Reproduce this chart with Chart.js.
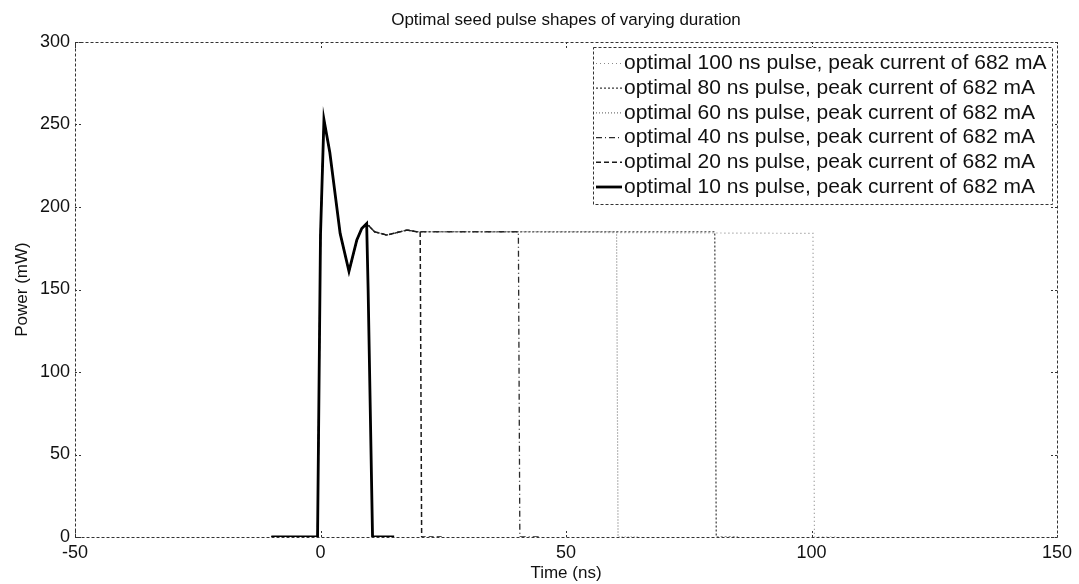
<!DOCTYPE html>
<html>
<head>
<meta charset="utf-8">
<script src="https://cdn.jsdelivr.net/npm/chart.js@4"></script>
<style>
  html, body { margin: 0; padding: 0; background: #fff; }
  #wrap { width: 1079px; height: 584px; }
</style>
</head>
<body>
<div id="wrap"><canvas id="myChart" width="1079" height="584"></canvas></div>
<script>
// pulse durations (ns), legend order
var durations = [100, 80, 60, 40, 20, 10];

// shared turn-on transient: time (ns) and power (mW)
var onsetTime  = [-10, -0.6, 0.0, 0.7, 1.9, 4.0, 5.8, 7.4, 8.4, 9.4];
var onsetPower = [0,    0,   183, 253, 233, 184, 161, 180, 187, 190];

// settling ripple seen on the longer pulses
var rippleTime  = [11.0, 13.5, 17.6, 19.6];
var ripplePower = [185,  183,  186,  185];

// plateau level at the end of each pulse (mW)
var plateauEnd = [184, 185, 185, 185, 185];

// falling edge of the 10 ns pulse
var shortTailTime  = [9.7, 10.6, 15];
var shortTailPower = [150, 0,    0];

var lineColors = ['#8a8a8a', '#3a3a3a', '#777777', '#2a2a2a', '#1a1a1a', '#000000'];
var lineDashes = [[1, 3], [2, 2], [1, 2], [6, 3, 1, 3], [5, 3], []];
var lineWidths = [1.2, 1.2, 1.2, 1.3, 1.5, 2.8];

function buildSeries(i) {
    var d = durations[i];
    var pts = [];
    for (var k = 0; k < onsetTime.length; k++) pts.push({x: onsetTime[k], y: onsetPower[k]});
    if (d === 10) {
        for (var k = 0; k < shortTailTime.length; k++) pts.push({x: shortTailTime[k], y: shortTailPower[k]});
        return pts;
    }
    for (var k = 0; k < rippleTime.length; k++) {
        if (rippleTime[k] < d) pts.push({x: rippleTime[k], y: ripplePower[k]});
    }
    pts.push({x: d + 0.3, y: plateauEnd[i]});
    pts.push({x: d + 0.6, y: 0});
    pts.push({x: d + 5, y: 0});
    return pts;
}

var datasets = durations.map(function (d, i) {
    return {
        label: 'optimal ' + d + ' ns pulse, peak current of 682 mA',
        data: buildSeries(i),
        borderColor: lineColors[i],
        backgroundColor: lineColors[i],
        borderDash: lineDashes[i],
        borderWidth: lineWidths[i],
        pointRadius: 0,
        tension: 0,
        fill: false,
        order: durations.length - i
    };
});

var FONT = '"Liberation Sans", Arial, sans-serif';

// MATLAB-style box, inward ticks, title and boxed legend inside the axes
var matlabLook = {
    id: 'matlabLook',
    afterDraw: function (chart) {
        var c = chart.ctx, a = chart.chartArea;
        var xs = chart.scales.x, ys = chart.scales.y;
        c.save();
        c.strokeStyle = '#333';
        c.lineWidth = 1;
        c.setLineDash([3, 2]);
        c.strokeRect(a.left + 0.5, a.top + 0.5, a.right - a.left, a.bottom - a.top);
        c.setLineDash([2, 2]);
        var tl = 6;
        xs.ticks.forEach(function (t) {
            var px = Math.round(xs.getPixelForValue(t.value)) + 0.5;
            c.beginPath();
            c.moveTo(px, a.bottom); c.lineTo(px, a.bottom - tl);
            c.moveTo(px, a.top); c.lineTo(px, a.top + tl);
            c.stroke();
        });
        ys.ticks.forEach(function (t) {
            var py = Math.round(ys.getPixelForValue(t.value)) + 0.5;
            c.beginPath();
            c.moveTo(a.left, py); c.lineTo(a.left + tl, py);
            c.moveTo(a.right, py); c.lineTo(a.right - tl, py);
            c.stroke();
        });

        // title
        c.setLineDash([]);
        c.fillStyle = '#111';
        c.font = '17px ' + FONT;
        c.textAlign = 'center';
        c.textBaseline = 'middle';
        c.fillText('Optimal seed pulse shapes of varying duration', (a.left + a.right) / 2, 20);

        // legend
        var bx = 593, by = 47, bw = 459, bh = 157, rowH = 24.7, y0 = 63.5;
        c.fillStyle = '#fff';
        c.fillRect(bx, by, bw, bh);
        c.strokeStyle = '#333';
        c.setLineDash([3, 2]);
        c.strokeRect(bx + 0.5, by + 0.5, bw, bh);
        c.font = '21px ' + FONT;
        c.textAlign = 'left';
        chart.data.datasets.forEach(function (ds, i) {
            var yy = y0 + i * rowH;
            c.strokeStyle = ds.borderColor;
            c.lineWidth = ds.borderWidth;
            c.setLineDash(ds.borderDash);
            c.beginPath();
            c.moveTo(bx + 3, yy); c.lineTo(bx + 29, yy);
            c.stroke();
            c.fillStyle = '#111';
            c.fillText(ds.label, bx + 31, yy);
        });
        c.restore();
    }
};

var ctx = document.getElementById('myChart').getContext('2d');
var myChart = new Chart(ctx, {
    type: 'line',
    data: { datasets: datasets },
    plugins: [matlabLook],
    options: {
        responsive: false,
        animation: false,
        layout: { padding: { top: 42, right: 22, bottom: 0, left: 0 } },
        scales: {
            x: {
                type: 'linear',
                min: -50, max: 150,
                grid: { display: false, drawTicks: false },
                border: { display: false },
                ticks: { stepSize: 50, color: '#111', padding: 5, font: { size: 18, family: FONT } },
                title: { display: true, text: 'Time (ns)', color: '#111', padding: { top: 0, bottom: 0 }, font: { size: 17, family: FONT } },
                afterFit: function (s) { s.height = 47; }
            },
            y: {
                type: 'linear',
                min: 0, max: 300,
                grid: { display: false, drawTicks: false },
                border: { display: false },
                ticks: { stepSize: 50, color: '#111', padding: 5, font: { size: 18, family: FONT } },
                title: { display: true, text: 'Power (mW)', color: '#111', padding: { top: 12, bottom: 0 }, font: { size: 17, family: FONT } },
                afterFit: function (s) { s.width = 75; }
            }
        },
        plugins: {
            legend: { display: false },
            title: { display: false },
            tooltip: { enabled: false }
        }
    }
});
</script>
</body>
</html>
